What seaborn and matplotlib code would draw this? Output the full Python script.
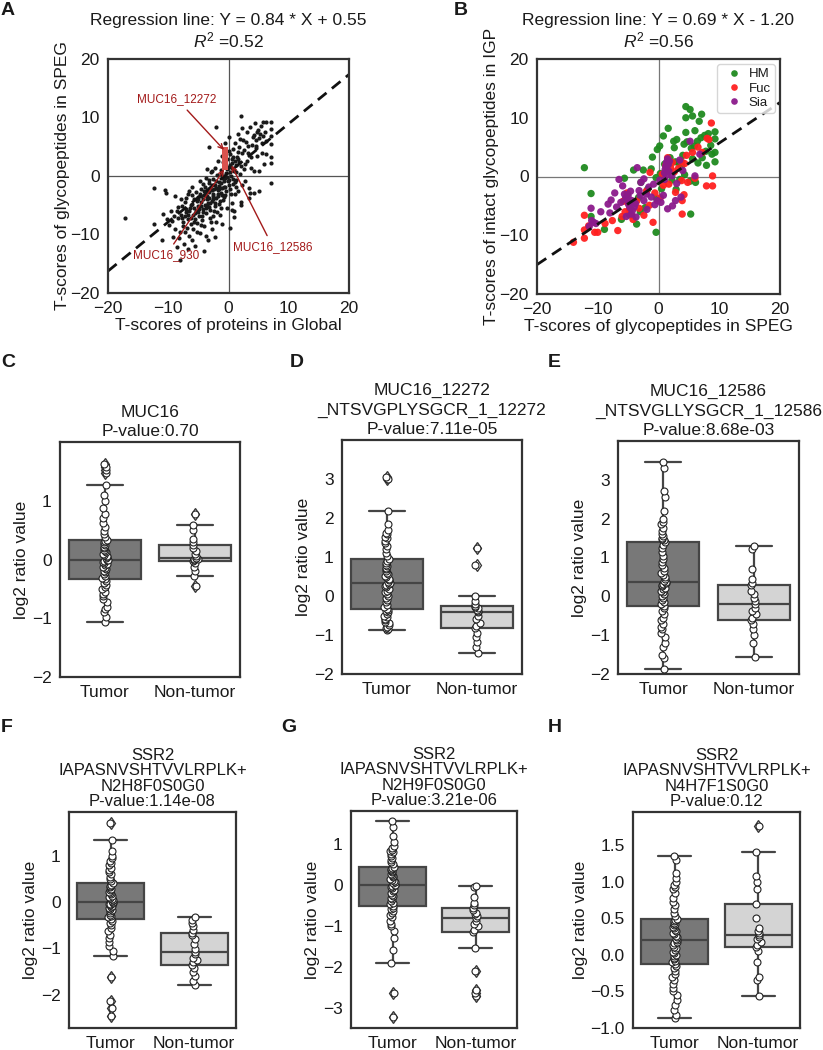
import numpy as np
import pandas as pd
import matplotlib
matplotlib.use('Agg')
import matplotlib.pyplot as plt
import seaborn as sns

# ---------------- data ----------------
# Panel A: T-scores protein (Global) vs glycopeptide (SPEG)
a_points = [
    (-17.1, -7.1), (-12.4, -2.1), (-12.4, -8.2), (-10.3, -2.9), (-10.6, -2.4), (-11.0, -10.9),
    (-10.8, -6.5), (-10.2, -7.4), (-9.8, -8.3), (-9.5, -5.9), (-9.2, -10.5), (-9.0, -6.8),
    (-8.8, -3.5), (-8.5, -12.2), (-8.1, -14.3), (-8.0, -9.5), (-7.8, -5.2), (-7.6, -7.8),
    (-7.4, -11.6), (-7.2, -4.4), (-7.0, -6.2), (-6.9, -8.9), (-6.7, -3.1), (-6.5, -10.2),
    (-6.4, -5.5), (-6.2, -7.1), (-6.0, -1.9), (-5.9, -9.0), (-5.8, -4.0), (-5.6, -6.3),
    (-5.5, -12.0), (-5.4, -2.7), (-5.3, -8.0), (-5.1, -5.1), (-5.0, -3.6), (-4.9, -6.9),
    (-4.8, -0.9), (-4.7, -9.8), (-4.6, -4.4), (-4.5, -2.2), (-4.4, -7.6), (-4.3, -5.7),
    (-4.2, -1.4), (-4.1, -3.3), (-4.0, -8.6), (-3.9, -4.9), (-3.8, -0.3), (-3.7, -6.4),
    (-3.6, -2.6), (-3.5, -3.9), (-3.4, -11.0), (-3.3, -5.3), (-3.2, 4.9), (-3.2, -1.2),
    (-3.1, -7.2), (-3.0, -2.0), (-2.9, 0.6), (-2.8, -4.3), (-2.7, -9.1), (-2.6, -3.0),
    (-2.5, -0.5), (-2.4, -5.9), (-2.3, 1.4), (-2.2, -1.6), (-2.1, 8.4), (-2.1, -3.7),
    (-2.0, -7.9), (-1.9, 0.2), (-1.8, -2.4), (-1.7, 2.6), (-1.6, -4.8), (-1.5, -1.0),
    (-1.4, -6.6), (-1.3, 1.1), (-1.2, -2.9), (-1.1, 3.4), (-1.0, -0.4), (-0.9, -4.1),
    (-0.8, 1.9), (-0.7, -1.8), (-0.6, 5.7), (-0.5, -3.3), (-0.4, 0.5), (-0.3, -5.4),
    (-0.2, 2.9), (-0.1, -0.9), (0.0, 6.6), (0.1, 1.5), (0.2, -2.2), (0.3, 3.8),
    (0.4, 0.0), (0.5, -4.6), (0.6, 2.3), (0.7, -1.3), (0.8, 4.7), (0.9, 0.8),
    (1.0, -3.0), (1.1, 5.6), (1.2, 1.8), (1.3, -0.6), (1.4, 3.2), (1.5, 7.1),
    (1.6, -2.5), (1.7, 2.4), (1.8, 5.0), (1.9, 0.3), (2.0, -5.0), (2.1, 10.3),
    (2.2, 3.9), (2.3, -1.5), (2.4, 6.1), (2.5, 1.2), (2.6, 4.4), (2.8, -0.8),
    (3.0, 7.6), (3.1, 2.6), (3.3, 5.1), (3.5, -2.9), (3.6, 8.4), (3.8, 3.3),
    (4.0, 6.7), (4.2, 0.9), (4.4, 9.0), (4.6, 4.8), (4.8, 7.5), (5.0, -2.5),
    (-8.6, -6.0), (-8.3, -7.1), (-7.9, -6.6), (-7.5, -8.6), (-7.3, -6.9), (-7.1, -5.6),
    (-6.8, -7.4), (-6.6, -6.0), (-6.3, -8.2), (-6.1, -4.8), (-5.9, -6.7), (-5.7, -5.4),
    (-5.5, -7.3), (-5.2, -4.3), (-5.0, -6.1), (-4.8, -3.1), (-4.6, -5.2), (-4.4, -6.8),
    (-4.2, -4.0), (-4.0, -2.6), (-3.8, -5.5), (-3.6, -3.4), (-3.4, -4.6), (-3.2, -2.8),
    (-3.0, -5.8), (-2.8, -1.5), (-2.6, -4.0), (-2.4, -2.3), (-2.2, -5.1), (-2.0, -0.8),
    (-1.8, -3.5), (-1.6, -1.7), (-1.4, -4.2), (-1.2, 0.3), (-1.0, -2.1), (-0.8, -3.6),
    (-0.6, -0.3), (-0.4, -2.5), (-0.2, 1.2), (0.0, -1.5), (0.2, 0.7), (0.4, -3.0),
    (0.6, 1.4), (0.8, -0.5), (1.0, 2.6), (1.2, -1.8), (-3.9, -1.9), (-3.3, -0.6),
    (-2.7, 0.9), (-2.5, -6.8), (-1.9, -6.1), (-1.3, -5.5), (-0.9, 2.4), (-0.5, 3.9),
    (0.1, 4.3), (0.5, 2.9), (0.9, -6.0), (-5.3, -9.6), (-6.5, -2.5), (-7.0, -3.8),
    (-4.5, -8.4), (-3.7, -10.2), (-2.9, -7.9), (-6.0, -10.9), (-4.1, -12.8),
    (4.2, 7.0), (4.6, 6.2), (4.9, 7.9), (5.1, 6.5), (5.3, 7.2), (5.5, 5.6),
    (5.7, 9.3), (5.8, 6.8), (6.0, 7.6), (6.2, 9.3), (6.3, 5.9), (5.4, 8.6),
    (4.5, 5.2), (7.0, 9.3), (7.0, 8.1), (7.0, 6.8), (7.0, 5.4), (7.0, 3.3),
    (7.0, 2.3), (7.0, -1.2), (5.1, 0.8), (5.9, 2.0), (4.8, 3.4), (3.4, -2.1),
    (4.2, -2.9), (3.4, -3.8), (2.0, -4.4), (0.6, -5.8), (0.9, -7.0), (2.7, 2.0),
    (3.2, 4.0), (2.9, 5.8), (1.6, 4.1), (2.3, 8.2), (3.9, 5.3), (6.3, 3.8),
    (5.6, 3.9), (3.7, 1.3), (1.1, -1.1), (1.9, 6.3),
    (-9.3, -7.7), (-8.9, -9.1), (-8.4, -5.3), (-7.7, -7.2), (-7.2, -9.6), (-6.7, -6.7),
    (-6.3, -5.0), (-5.8, -7.8), (-5.4, -6.0), (-5.1, -3.9), (-4.9, -5.6), (-4.5, -3.4),
    (-4.2, -6.2), (-3.9, -3.0), (-3.5, -5.0), (-3.3, -3.7), (-3.0, -4.6), (-2.7, -2.4),
    (-2.5, -3.4), (-2.3, -4.6), (-2.0, -2.0), (-1.7, -3.0), (-1.5, -2.2), (-1.2, -1.2),
    (-1.0, -3.2), (-0.7, -0.9), (-0.5, -1.9), (-0.2, -0.2), (0.1, -0.6), (0.3, 1.9),
    (0.7, 3.3), (1.3, 0.6), (1.5, 2.9), (2.1, 1.7), (-3.5, 1.2), (-6.1, -3.3),
    (-7.9, -3.9), (-8.2, -10.6), (-1.1, -8.2), (0.3, -8.9), (-2.3, -10.4), (-6.8, -12.5),
]
muc16_points = [(-0.5, 1.6), (-0.5, 2.0), (-0.5, 2.4), (-0.5, 2.8), (-0.5, 3.2), (-0.5, 4.0), (-0.5, 4.4)]
a_slope, a_intercept, a_r2 = 0.84, 0.55, 0.52

# Panel B: T-scores glycopeptide (SPEG) vs intact glycopeptide (IGP)
hm_points = [
    (-12.2, 1.5), (-11.1, -2.9), (-11.1, -6.8), (-8.9, -9.0), (-5.6, -0.3), (-5.6, -4.1),
    (-4.1, 1.1), (-2.5, 1.1), (-1.0, 3.3), (-0.4, -0.2), (-0.4, -9.5), (-3.6, -8.1),
    (-2.9, -1.0), (-1.8, -2.2), (-2.2, -5.3), (-3.0, -6.0), (-4.8, -6.5), (-0.2, 4.6),
    (0.2, 5.2), (0.8, 6.9), (1.6, 8.2), (2.5, 6.0), (2.6, 4.9), (3.0, 6.3),
    (1.0, 2.1), (1.5, 1.0), (0.5, -2.1), (-0.3, -3.8), (2.2, -0.6), (2.9, -2.2),
    (3.4, 2.3), (3.5, -0.5), (4.0, 3.6), (4.5, 11.9), (5.2, 11.4), (4.5, 10.0),
    (5.6, 10.3), (7.1, 10.6), (6.7, 9.4), (9.3, 7.6), (9.3, 6.4), (9.3, 4.1),
    (9.3, 2.5), (8.2, 7.3), (7.6, 7.0), (7.0, 6.6), (6.4, 6.0), (5.9, 5.2),
    (5.4, 4.8), (4.7, 5.9), (4.2, 5.5), (4.5, 7.5), (6.0, 7.8), (8.6, 5.3),
    (7.8, 4.3), (7.2, 3.2), (6.5, 2.3), (7.9, 1.9), (8.8, 3.8), (6.1, -1.0),
    (5.3, -6.4), (4.3, 0.3), (3.8, 1.8), (5.6, 3.0), (5.2, -0.8), (2.8, 2.5),
    (1.9, 3.2), (0.3, 0.5), (-1.2, 1.3), (-3.3, -3.6), (-5.1, -3.0), (-6.1, -7.3),
]
fuc_points = [
    (-14.0, -11.2), (-12.2, -10.5), (-12.2, -9.1), (-12.2, -6.6), (-10.5, -9.5), (-10.0, -9.5),
    (-7.6, -7.5), (-6.7, -9.2), (-5.2, -2.8), (-5.0, -4.5), (-4.8, -5.6), (-4.4, -6.6),
    (-4.2, -7.3), (-5.5, -6.0), (-3.6, -4.2), (-3.2, -5.4), (-2.4, -6.6), (-1.4, 0.7),
    (-0.9, -7.8), (-1.5, -4.9), (-0.6, -2.8), (0.3, -3.6), (0.8, -1.5), (1.5, 3.2),
    (2.0, 1.5), (1.2, 1.9), (2.8, -2.7), (3.8, -0.7), (3.9, -6.4), (3.9, -4.1),
    (4.8, -1.0), (3.3, 1.4), (2.6, 0.8), (3.8, 2.5), (4.3, 2.2), (7.9, -1.6),
    (8.9, -1.6), (8.7, 9.1), (8.3, 6.3), (7.2, 4.1), (8.9, 0.1), (8.0, 6.5),
    (6.5, 5.0), (5.6, 4.1), (4.6, 3.6), (1.7, -1.3), (0.6, 0.4), (-2.0, -2.5),
    (-6.0, -6.8), (-5.8, -4.2), (-8.8, -8.0), (-11.5, -8.4), (2.3, 2.4), (6.0, -0.3),
    (4.2, -3.1),
]
sia_points = [
    (-11.0, -7.5), (-10.7, -7.8), (-10.3, -8.0), (-11.1, -5.4), (-11.4, -8.5), (-7.8, -4.0),
    (-8.3, -4.7), (-6.5, -0.5), (-6.9, -5.2), (-5.6, -3.0), (-5.4, -3.6), (-5.2, -4.0),
    (-5.0, -3.3), (-4.9, -4.8), (-4.7, -5.3), (-4.6, -2.5), (-4.5, -6.4), (-4.4, -4.1),
    (-4.3, -5.8), (-5.3, -6.8), (-5.9, -1.6), (-3.5, 1.5), (-2.9, -1.0), (-2.4, -0.4),
    (-2.4, -4.1), (-3.0, -3.2), (-3.8, -4.6), (-3.2, -2.4), (-2.0, -3.0), (-1.6, -1.8),
    (-1.2, -3.5), (-0.2, -4.1), (-0.6, -4.8), (0.4, -4.4), (0.8, -3.2), (1.0, 0.6),
    (1.1, 1.2), (1.2, 1.8), (1.3, 2.4), (1.4, 0.3), (1.5, 3.0), (1.6, 2.0),
    (1.7, 0.9), (1.8, 2.6), (1.0, -0.5), (1.5, -5.5), (2.3, -5.0), (2.8, -4.1),
    (3.7, -3.5), (3.0, -1.2), (2.2, 0.1), (5.2, 6.0), (6.0, 0.1), (6.8, 3.8),
    (4.0, 1.0), (3.5, 2.8), (-7.2, -2.8), (-6.2, -4.4), (-3.7, -6.9), (-4.0, -5.2),
    (-1.9, -5.6), (-0.8, -1.3), (0.2, -0.6), (-8.0, -6.2), (-9.5, -6.0),
]
b_slope, b_intercept, b_r2 = 0.69, -1.20, 0.56

# Panels C-H: log2 ratio values
groups = ['Tumor', 'Non-tumor']

c_tumor = [-1.07, -0.98, -0.9, -0.85, -0.8, -0.72, -0.68, -0.62, -0.58, -0.55, -0.5, -0.47, -0.43, -0.4, -0.37,
           -0.34, -0.31, -0.28, -0.25, -0.22, -0.2, -0.17, -0.15, -0.12, -0.1, -0.08, -0.06, -0.04, -0.03, -0.01,
           0.0, 0.02, 0.04, 0.06, 0.08, 0.1, 0.12, 0.14, 0.16, 0.19, 0.21, 0.24, 0.26, 0.29, 0.31,
           0.34, 0.38, 0.43, 0.48, 0.55, 0.62, 0.7, 0.78, 0.88, 1.0, 1.1, 1.26, 1.48, 1.52, 1.57, 1.62]
c_normal = [-0.45, -0.28, -0.2, -0.12, -0.06, -0.02, 0.0, 0.01, 0.01, 0.02, 0.03, 0.06, 0.1, 0.15, 0.2,
            0.25, 0.3, 0.35, 0.5, 0.59, 0.77]

d_tumor = [-0.87, -0.85, -0.82, -0.8, -0.75, -0.7, -0.66, -0.62, -0.58, -0.54, -0.5, -0.46, -0.42, -0.38, -0.35,
           -0.33, -0.28, -0.22, -0.16, -0.1, -0.05, 0.0, 0.05, 0.1, 0.14, 0.18, 0.22, 0.25, 0.28, 0.31,
           0.33, 0.36, 0.4, 0.44, 0.48, 0.52, 0.56, 0.6, 0.64, 0.68, 0.72, 0.76, 0.8, 0.85, 0.9,
           0.95, 1.02, 1.1, 1.2, 1.28, 1.35, 1.42, 1.48, 1.52, 1.58, 1.62, 1.7, 1.85, 2.18, 3.0, 3.05]
d_normal = [-1.46, -1.3, -1.18, -1.05, -0.95, -0.82, -0.76, -0.68, -0.6, -0.5, -0.41, -0.38, -0.35, -0.31,
            -0.29, -0.26, -0.2, -0.12, 0.0, 0.79, 1.23]

e_tumor = [-1.88, -1.6, -1.5, -1.3, -1.2, -1.05, -0.95, -0.85, -0.78, -0.7, -0.62, -0.55, -0.45, -0.38, -0.3,
           -0.26, -0.2, -0.15, -0.1, -0.05, 0.0, 0.05, 0.1, 0.14, 0.18, 0.22, 0.26, 0.29, 0.32, 0.34,
           0.36, 0.4, 0.45, 0.5, 0.55, 0.6, 0.66, 0.72, 0.8, 0.88, 0.95, 1.05, 1.15, 1.25, 1.33,
           1.4, 1.45, 1.48, 1.5, 1.55, 1.6, 1.68, 1.75, 1.85, 1.92, 2.0, 2.2, 2.55, 2.7, 3.3, 3.45]
e_normal = [-1.56, -1.2, -1.0, -0.85, -0.7, -0.6, -0.55, -0.45, -0.38, -0.3, -0.21, -0.12, -0.05, 0.05,
            0.15, 0.29, 0.35, 0.45, 0.7, 1.22, 1.3]

f_tumor = [-2.47, -2.28, -2.13, -1.61, -1.16, -1.05, -0.95, -0.85, -0.78, -0.7, -0.62, -0.55, -0.5, -0.45, -0.41,
           -0.37, -0.33, -0.3, -0.27, -0.24, -0.2, -0.17, -0.14, -0.12, -0.1, -0.08, -0.06, -0.04, -0.03, -0.01,
           0.0, 0.02, 0.04, 0.06, 0.08, 0.11, 0.14, 0.17, 0.2, 0.23, 0.26, 0.29, 0.32, 0.35, 0.38,
           0.41, 0.45, 0.5, 0.55, 0.6, 0.65, 0.7, 0.75, 0.8, 0.85, 0.9, 0.95, 1.0, 1.1, 1.35, 1.72]
f_normal = [-1.78, -1.7, -1.6, -1.52, -1.42, -1.35, -1.3, -1.25, -1.2, -1.12, -1.08, -1.02, -0.9, -0.8,
            -0.72, -0.67, -0.6, -0.52, -0.45, -0.38, -0.32]

g_tumor = [-3.24, -2.65, -1.92, -1.6, -1.3, -1.12, -1.02, -0.95, -0.88, -0.8, -0.75, -0.7, -0.65, -0.6, -0.56,
           -0.52, -0.48, -0.44, -0.4, -0.36, -0.32, -0.28, -0.24, -0.2, -0.16, -0.12, -0.09, -0.06, -0.03, -0.01,
           0.0, 0.03, 0.06, 0.09, 0.12, 0.15, 0.18, 0.21, 0.24, 0.27, 0.3, 0.33, 0.36, 0.39, 0.42,
           0.44, 0.5, 0.55, 0.6, 0.65, 0.7, 0.75, 0.8, 0.82, 0.85, 0.9, 0.95, 1.05, 1.2, 1.4, 1.55]
g_normal = [-2.73, -2.65, -2.58, -2.11, -1.55, -1.16, -1.1, -1.02, -0.95, -0.88, -0.81, -0.76, -0.72, -0.68,
            -0.62, -0.57, -0.5, -0.45, -0.3, -0.05, -0.02]

h_tumor = [-0.87, -0.82, -0.75, -0.68, -0.62, -0.55, -0.5, -0.45, -0.4, -0.35, -0.3, -0.26, -0.22, -0.18, -0.15,
           -0.12, -0.1, -0.08, -0.06, -0.04, -0.02, 0.0, 0.02, 0.04, 0.07, 0.09, 0.11, 0.14, 0.16, 0.18,
           0.2, 0.22, 0.24, 0.26, 0.28, 0.3, 0.32, 0.34, 0.36, 0.38, 0.4, 0.42, 0.44, 0.46, 0.47,
           0.49, 0.53, 0.57, 0.62, 0.68, 0.72, 0.78, 0.84, 0.9, 0.92, 0.95, 1.0, 1.05, 1.12, 1.3, 1.35]
h_normal = [-0.56, -0.35, -0.3, -0.1, 0.05, 0.1, 0.14, 0.18, 0.21, 0.24, 0.27, 0.3, 0.33, 0.36, 0.5,
            0.7, 0.9, 1.0, 1.08, 1.41, 1.76]

# ---------------- style ----------------
sns.set_style('white')
plt.rcParams['font.family'] = ['Liberation Sans', 'DejaVu Sans']
plt.rcParams['mathtext.fontset'] = 'custom'
plt.rcParams['mathtext.rm'] = 'Liberation Sans'
plt.rcParams['mathtext.it'] = 'Liberation Sans:italic'
plt.rcParams['text.color'] = '#1a1a1a'
plt.rcParams['axes.labelcolor'] = '#1a1a1a'
plt.rcParams['xtick.color'] = '#1a1a1a'
plt.rcParams['ytick.color'] = '#1a1a1a'

W, H = 823, 1050
fig = plt.figure(figsize=(W / 100, H / 100), dpi=100)


def add_ax(l, t, r, b):
    return fig.add_axes([l / W, 1 - b / H, (r - l) / W, (b - t) / H])


def frame(ax):
    for s in ax.spines.values():
        s.set_color('#333333')
        s.set_linewidth(1.6)
    ax.tick_params(labelsize=12.5, length=0, pad=6)


dark_red = '#a31a1a'

# ---------------- Panel A ----------------
ax = add_ax(108, 59, 349, 293)
dfa = pd.DataFrame(a_points, columns=['x', 'y'])
ax.axhline(0, color='#555555', lw=0.9, zorder=0)
ax.axvline(0, color='#555555', lw=0.9, zorder=0)
sns.scatterplot(data=dfa, x='x', y='y', color='#1a1a1a', s=9, linewidth=0, ax=ax)
dfm = pd.DataFrame(muc16_points, columns=['x', 'y'])
sns.scatterplot(data=dfm, x='x', y='y', color='#d9534f', s=14, marker='s', linewidth=0, ax=ax)
xx = np.array([-20, 20])
ax.plot(xx, a_slope * xx + a_intercept, ls=(0, (4, 2.5)), color='#111111', lw=2)
ax.set_xlim(-20, 20)
ax.set_ylim(-20, 20)
ax.set_xticks([-20, -10, 0, 10, 20])
ax.set_yticks([-20, -10, 0, 10, 20])
ax.set_xlabel('T-scores of proteins in Global', fontsize=12.5, labelpad=1)
ax.set_ylabel('T-scores of glycopeptides in SPEG', fontsize=12.5, labelpad=0)
ax.set_title('Regression line: Y = %.2f * X + %.2f\n$R^2$ =%.2f' % (a_slope, a_intercept, a_r2),
             fontsize=12.5, linespacing=1.2, pad=8)
arrow = dict(arrowstyle='->', color=dark_red, lw=1.0, shrinkA=2, shrinkB=1)
ax.annotate('MUC16_12272', xy=(-0.6, 4.3), xytext=(-8.6, 13.2), color=dark_red, fontsize=8.5,
            ha='center', va='center', arrowprops=arrow)
ax.annotate('MUC16_12586', xy=(0.4, 2.0), xytext=(7.4, -12.2), color=dark_red, fontsize=8.5,
            ha='center', va='center', arrowprops=arrow)
ax.annotate('MUC16_930', xy=(-0.6, 1.3), xytext=(-10.4, -13.6), color=dark_red, fontsize=8.5,
            ha='center', va='center', arrowprops=arrow)
frame(ax)

# ---------------- Panel B ----------------
ax = add_ax(537, 59, 780, 294)
rows = []
for name, pts in [('HM', hm_points), ('Fuc', fuc_points), ('Sia', sia_points)]:
    for x, y in pts:
        rows.append((x, y, name))
dfb = pd.DataFrame(rows, columns=['x', 'y', 'type'])
ax.axhline(0, color='#777777', lw=0.9, zorder=0)
ax.axvline(0, color='#777777', lw=0.9, zorder=0)
sns.scatterplot(data=dfb, x='x', y='y', hue='type', hue_order=['HM', 'Fuc', 'Sia'],
                palette=['#1f8a1f', '#ff2020', '#8b1a8b'], s=28, linewidth=0, alpha=0.95, ax=ax)
ax.plot(xx, b_slope * xx + b_intercept, ls=(0, (4, 2.5)), color='#111111', lw=2)
ax.set_xlim(-20, 20)
ax.set_ylim(-20, 20)
ax.set_xticks([-20, -10, 0, 10, 20])
ax.set_yticks([-20, -10, 0, 10, 20])
ax.set_xlabel('T-scores of glycopeptides in SPEG', fontsize=12.5, labelpad=1)
ax.set_ylabel('T-scores of intact glycopeptides in IGP', fontsize=12.5, labelpad=0)
ax.set_title('Regression line: Y = %.2f * X - %.2f\n$R^2$ =%.2f' % (b_slope, abs(b_intercept), b_r2),
             fontsize=12.5, linespacing=1.2, pad=8)
leg = ax.legend(loc='upper right', fontsize=9.5, frameon=True, handletextpad=0.1,
                borderpad=0.3, labelspacing=0.15, markerscale=0.9, borderaxespad=0.4)
leg.get_frame().set_edgecolor('#cccccc')
frame(ax)

# ---------------- Panels C-H ----------------
dark_fill = '#787878'
light_fill = '#d4d4d4'


def box_panel(pos, tumor, normal, title, ylim, yticks, tsize, tls):
    ax = add_ax(*pos)
    df = pd.DataFrame({'group': ['Tumor'] * len(tumor) + ['Non-tumor'] * len(normal),
                       'value': tumor + normal})
    sns.boxplot(data=df, x='group', y='value', hue='group', order=groups, hue_order=groups,
                palette=[dark_fill, light_fill], legend=False, linecolor='#454545', linewidth=1.6,
                width=0.8, saturation=1,
                flierprops=dict(marker='d', markerfacecolor='white', markeredgecolor='#333333',
                                markersize=6, markeredgewidth=0.9), ax=ax)
    np.random.seed(3)
    sns.stripplot(data=df, x='group', y='value', order=groups, color='white', edgecolor='#222222',
                  linewidth=0.8, size=5, jitter=0.03, ax=ax)
    ax.set_xlim(-0.5, 1.5)
    ax.set_ylim(*ylim)
    ax.set_yticks(yticks)
    ax.set_xlabel('')
    ax.set_ylabel('log2 ratio value', fontsize=12.5, labelpad=2)
    ax.set_title(title, fontsize=tsize, linespacing=tls, pad=4)
    frame(ax)
    return ax


box_panel((60, 442, 240, 677), c_tumor, c_normal, 'MUC16\nP-value:0.70',
          (-2.0, 2.0), [-2, -1, 0, 1], 12.5, 1.4)
box_panel((342, 440, 522, 674), d_tumor, d_normal,
          'MUC16_12272\n_NTSVGPLYSGCR_1_12272\nP-value:7.11e-05',
          (-2.0, 4.0), [-2, -1, 0, 1, 2, 3], 12.5, 1.4)
box_panel((618, 441, 799, 674), e_tumor, e_normal,
          'MUC16_12586\n_NTSVGLLYSGCR_1_12586\nP-value:8.68e-03',
          (-2.0, 4.0), [-2, -1, 0, 1, 2, 3], 12.5, 1.4)
box_panel((69, 812, 236, 1028), f_tumor, f_normal,
          'SSR2\nIAPASNVSHTVVLRPLK+\nN2H8F0S0G0\nP-value:1.14e-08',
          (-2.72, 1.95), [-2, -1, 0, 1], 12, 1.05)
box_panel((351, 811, 517, 1028), g_tumor, g_normal,
          'SSR2\nIAPASNVSHTVVLRPLK+\nN2H9F0S0G0\nP-value:3.21e-06',
          (-3.5, 1.8), [-3, -2, -1, 0, 1], 12, 1.05)
box_panel((633, 812, 800, 1028), h_tumor, h_normal,
          'SSR2\nIAPASNVSHTVVLRPLK+\nN4H7F1S0G0\nP-value:0.12',
          (-1.0, 1.95), [-1.0, -0.5, 0.0, 0.5, 1.0, 1.5], 12, 1.05)

# ---------------- panel letters ----------------
for letter, px, py in [('A', 1, 2), ('B', 454, 2), ('C', 1, 354), ('D', 290, 354), ('E', 548, 354),
                       ('F', 1, 719), ('G', 281, 719), ('H', 548, 719)]:
    fig.text(px / W, 1 - py / H, letter, fontsize=14, fontweight='bold', va='top', ha='left')

fig.savefig('out.png', dpi=100)
